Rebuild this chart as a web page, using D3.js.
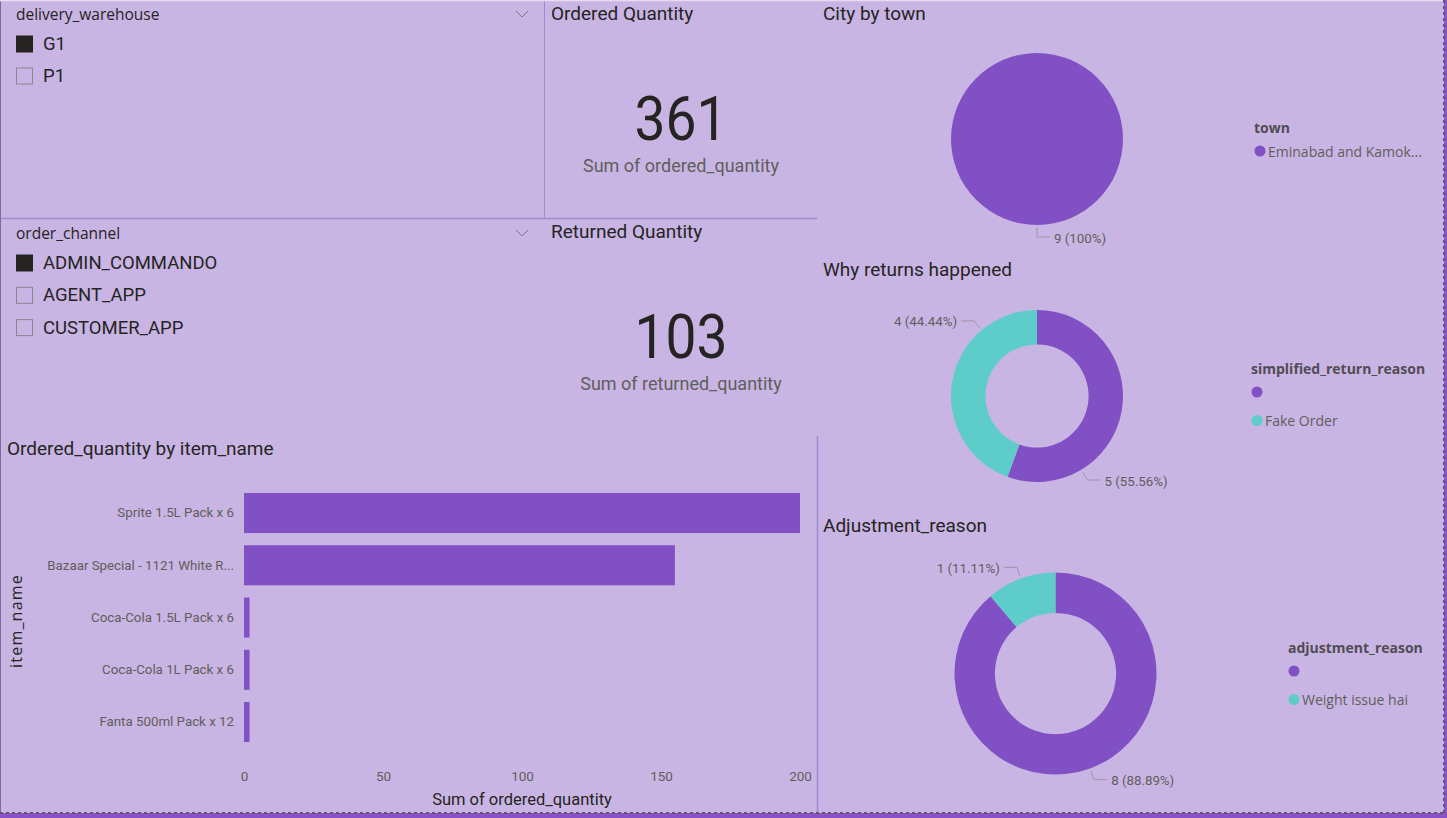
<!DOCTYPE html>
<html>
<head>
<meta charset="utf-8">
<script src="https://cdn.jsdelivr.net/npm/d3@7"></script>
<style>
  html, body { margin: 0; padding: 0; background: #C9B5E3; overflow: hidden; }
  svg { display: block; }
</style>
</head>
<body>
<svg id="chart" width="1447" height="818"></svg>
<script>
// ---------------- DATA ----------------
const warehouseTitle = "delivery_warehouse";
const warehouses = ["G1", "P1"];
const warehouseSelected = [true, false];

const channelTitle = "order_channel";
const channels = ["ADMIN_COMMANDO", "AGENT_APP", "CUSTOMER_APP"];
const channelSelected = [true, false, false];

const orderedTotal = 361;
const returnedTotal = 103;

const items = ["Sprite 1.5L Pack x 6", "Bazaar Special - 1121 White R...", "Coca-Cola 1.5L Pack x 6", "Coca-Cola 1L Pack x 6", "Fanta 500ml Pack x 12"];
const orderedQty = [200, 155, 2, 2, 2];
const xTicks = [0, 50, 100, 150, 200];

const towns = ["Eminabad and Kamok..."];
const townValues = [9];

const returnReasons = ["", "Fake Order"];
const returnValues = [5, 4];

const adjustReasons = ["", "Weight issue hai"];
const adjustValues = [8, 1];

// ---------------- STYLE ----------------
const BG = "#C9B5E3";
const PURPLE = "#8150C4";
const TEAL = "#5ECCC8";
const DARK = "#252423";
const GREY = "#605E5C";
const LINE = "#A08AD0";
const TITLE_FONT = "Roboto, 'DejaVu Sans', sans-serif";
const UI_FONT = "'Open Sans', 'Noto Sans', sans-serif";

const svg = d3.select("#chart");
svg.append("rect").attr("width", 1447).attr("height", 818).attr("fill", BG);

// frame lines
svg.append("line").attr("x1", 0).attr("x2", 817).attr("y1", 218.5).attr("y2", 218.5).attr("stroke", LINE).attr("stroke-width", 1.5);
svg.append("line").attr("x1", 544.5).attr("x2", 544.5).attr("y1", 0).attr("y2", 218).attr("stroke", LINE).attr("stroke-width", 1);
svg.append("line").attr("x1", 817.5).attr("x2", 817.5).attr("y1", 436).attr("y2", 813).attr("stroke", LINE).attr("stroke-width", 1.5);
svg.append("line").attr("x1", 0.5).attr("x2", 0.5).attr("y1", 0).attr("y2", 818).attr("stroke", "#7d6c99").attr("stroke-width", 1);
svg.append("line").attr("x1", 0).attr("x2", 1447).attr("y1", 0.5).attr("y2", 0.5).attr("stroke", "#e6def0").attr("stroke-width", 1.5);
// bottom & right purple bands with dashed borders
svg.append("rect").attr("x", 0).attr("y", 813).attr("width", 1447).attr("height", 5).attr("fill", "#8A52C9");
svg.append("rect").attr("x", 1444).attr("y", 0).attr("width", 3).attr("height", 818).attr("fill", "#8A52C9");
svg.append("line").attr("x1", 0).attr("x2", 1444).attr("y1", 813).attr("y2", 813).attr("stroke", "#5f5a66").attr("stroke-width", 2).attr("stroke-dasharray", "3,3");
svg.append("line").attr("x1", 1444).attr("x2", 1444).attr("y1", 0).attr("y2", 813).attr("stroke", "#5f5a66").attr("stroke-width", 2).attr("stroke-dasharray", "3,3");

// ---------------- SLICERS ----------------
function slicer(title, labels, selected, x, y, itemY0, itemStep) {
  const g = svg.append("g");
  g.append("text").attr("x", x).attr("y", y).attr("dominant-baseline", "central")
    .attr("font-family", UI_FONT).attr("font-size", 15.5).attr("fill", DARK).text(title);
  g.append("path").attr("d", d3.line()([[516, y - 3], [522, y + 3], [528, y - 3]]))
    .attr("fill", "none").attr("stroke", "#7a7580").attr("stroke-width", 1);
  labels.forEach((lab, i) => {
    const cy = itemY0 + i * itemStep;
    g.append("rect").attr("x", x + 0.5).attr("y", cy - 8).attr("width", 16).attr("height", 16)
      .attr("fill", selected[i] ? DARK : "none")
      .attr("stroke", selected[i] ? DARK : "#8a8590").attr("stroke-width", 1);
    g.append("text").attr("x", x + 27).attr("y", cy).attr("dominant-baseline", "central")
      .attr("font-family", TITLE_FONT).attr("font-size", 18.5).attr("fill", DARK).text(lab);
  });
}
slicer(warehouseTitle, warehouses, warehouseSelected, 16, 14, 44, 32);
slicer(channelTitle, channels, channelSelected, 16, 233, 263, 32.3);

// ---------------- KPI CARDS ----------------
function card(title, value, label, titleY, valueY, labelY) {
  const g = svg.append("g");
  g.append("text").attr("x", 551).attr("y", titleY).attr("dominant-baseline", "central")
    .attr("font-family", TITLE_FONT).attr("font-size", 19).attr("fill", DARK).text(title);
  g.append("text").attr("x", 681).attr("y", valueY).attr("text-anchor", "middle").attr("dominant-baseline", "central")
    .attr("font-family", TITLE_FONT).attr("font-size", 62).attr("fill", DARK)
    .attr("textLength", 93).attr("lengthAdjust", "spacingAndGlyphs").text(d3.format("d")(value));
  g.append("text").attr("x", 681).attr("y", labelY).attr("text-anchor", "middle").attr("dominant-baseline", "central")
    .attr("font-family", TITLE_FONT).attr("font-size", 18).attr("fill", GREY).text(label);
}
card("Ordered Quantity", orderedTotal, "Sum of ordered_quantity", 13, 118, 165);
card("Returned Quantity", returnedTotal, "Sum of returned_quantity", 231, 336, 383);

// ---------------- BAR CHART ----------------
const bar = svg.append("g");
bar.append("text").attr("x", 7).attr("y", 448).attr("dominant-baseline", "central")
  .attr("font-family", TITLE_FONT).attr("font-size", 19).attr("fill", DARK).text("Ordered_quantity by item_name");

const x = d3.scaleLinear().domain([0, 200]).range([244, 800]);
const y = d3.scaleBand().domain(items).range([480.8, 754.3]).paddingInner(0.234).paddingOuter(0.234);

bar.selectAll("rect.bar").data(items).join("rect").attr("class", "bar")
  .attr("x", x(0)).attr("y", d => y(d))
  .attr("width", (d, i) => x(orderedQty[i]) - x(0)).attr("height", y.bandwidth())
  .attr("fill", PURPLE);

const yAxis = bar.append("g").attr("transform", `translate(${x(0)},0)`).call(d3.axisLeft(y).tickSize(0).tickPadding(10));
yAxis.select(".domain").remove();
yAxis.selectAll("text").attr("font-family", TITLE_FONT).attr("font-size", 13.3).attr("fill", GREY);

const xAxis = bar.append("g").attr("transform", `translate(0,765)`).call(d3.axisBottom(x).tickValues(xTicks).tickSize(0).tickPadding(6));
xAxis.select(".domain").remove();
xAxis.selectAll("text").attr("font-family", TITLE_FONT).attr("font-size", 13.5).attr("fill", GREY);

bar.append("text").attr("x", 522).attr("y", 799).attr("text-anchor", "middle").attr("dominant-baseline", "central")
  .attr("font-family", TITLE_FONT).attr("font-size", 16.5).attr("fill", DARK).text("Sum of ordered_quantity");
bar.append("text").attr("transform", "translate(16,621) rotate(-90)").attr("text-anchor", "middle").attr("dominant-baseline", "central")
  .attr("font-family", UI_FONT).attr("font-size", 16).attr("letter-spacing", 1.2).attr("fill", DARK).text("item_name");

// ---------------- PIES / DONUTS ----------------
const color = d3.scaleOrdinal().range([PURPLE, TEAL]);
const pct = d3.format(".2~f");

function pieChart(opts) {
  const { title, titleY, cx, cy, r, inner, labels, values, legendTitle, legendX, legendY, labelAngles } = opts;
  const g = svg.append("g");
  g.append("text").attr("x", 823).attr("y", titleY).attr("dominant-baseline", "central")
    .attr("font-family", TITLE_FONT).attr("font-size", 19).attr("fill", DARK).text(title);
  const pie = d3.pie().sort(null).value(d => d.v);
  const data = labels.map((l, i) => ({ l, v: values[i], i }));
  const arcs = pie(data);
  const arc = d3.arc().innerRadius(r * inner).outerRadius(r);
  const pg = g.append("g").attr("transform", `translate(${cx},${cy})`);
  pg.selectAll("path").data(arcs).join("path").attr("d", arc).attr("fill", d => color(d.data.i));
  const total = d3.sum(values);
  arcs.forEach((a, k) => {
    const ang = labelAngles ? labelAngles[k] * Math.PI / 180 : (a.startAngle + a.endAngle) / 2;
    const s = Math.sin(ang), c = -Math.cos(ang);
    const p0 = [s * (r + 3), c * (r + 3)];
    const p1 = [s * (r + 12), c * (r + 12)];
    const dir = s >= -1e-6 ? 1 : -1;
    const p2 = [p1[0] + dir * 13, p1[1]];
    pg.append("path").attr("d", d3.line()([p0, p1, p2])).attr("fill", "none").attr("stroke", "#9c95a6").attr("stroke-width", 1);
    pg.append("text").attr("x", p2[0] + dir * 4).attr("y", p2[1] + 1).attr("dominant-baseline", "central")
      .attr("text-anchor", dir > 0 ? "start" : "end")
      .attr("font-family", TITLE_FONT).attr("font-size", 13.3).attr("fill", GREY)
      .text(`${a.data.v} (${pct(a.data.v / total * 100)}%)`);
  });
  const lg = g.append("g");
  lg.append("text").attr("x", legendX).attr("y", legendY).attr("dominant-baseline", "central")
    .attr("font-family", UI_FONT).attr("font-weight", "bold").attr("font-size", 14).attr("fill", "#504C55").text(legendTitle);
  labels.forEach((l, i) => {
    const ly = legendY + 24 + i * 28.5;
    lg.append("circle").attr("cx", legendX + 6).attr("cy", ly).attr("r", 5.5).attr("fill", color(i));
    lg.append("text").attr("x", legendX + 14).attr("y", ly).attr("dominant-baseline", "central")
      .attr("font-family", UI_FONT).attr("font-size", 14).attr("fill", GREY).text(l);
  });
}

pieChart({ title: "City by town", titleY: 13, cx: 1037, cy: 139, r: 86, inner: 0,
  labels: towns, values: townValues, legendTitle: "town", legendX: 1254, legendY: 127, labelAngles: [180] });
pieChart({ title: "Why returns happened", titleY: 269, cx: 1037, cy: 396, r: 86, inner: 0.6,
  labels: returnReasons, values: returnValues, legendTitle: "simplified_return_reason", legendX: 1251, legendY: 368, labelAngles: [149, 320] });
pieChart({ title: "Adjustment_reason", titleY: 525, cx: 1055.5, cy: 673.5, r: 101, inner: 0.6,
  labels: adjustReasons, values: adjustValues, legendTitle: "adjustment_reason", legendX: 1288, legendY: 647, labelAngles: null });
</script>
</body>
</html>
